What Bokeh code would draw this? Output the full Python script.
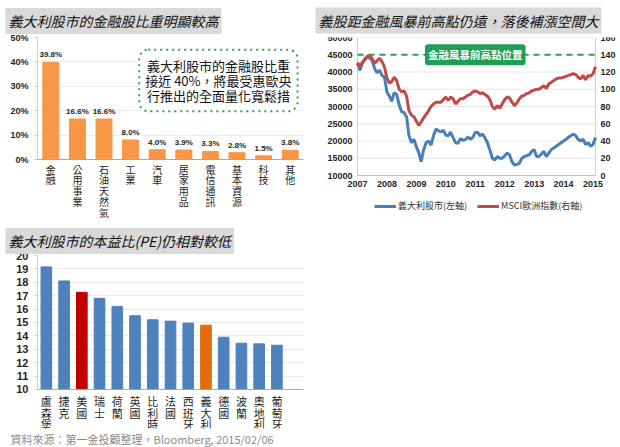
import pandas as pd
from bokeh.plotting import figure
from bokeh.models import (FactorRange, Range1d, Label, LabelSet, Span, Legend, LegendItem,
                          SingleIntervalTicker, PrintfTickFormatter, Title, ColumnDataSource)
from bokeh.layouts import gridplot
from bokeh.core.properties import value
from bokeh.embed import file_html
from bokeh.resources import INLINE

CJK = "Noto Sans CJK TC"
NUM = "Liberation Sans"
TXT = "#262626"

# ---------------- data ----------------
sectors = ["金融", "公用事業", "石油天然氣", "工業", "汽車", "居家用品", "電信通訊", "基本資源", "科技", "其他"]
sector_weight = [39.8, 16.6, 16.6, 8.0, 4.0, 3.9, 3.3, 2.8, 1.5, 3.8]

countries = ["盧森堡", "捷克", "美國", "瑞士", "荷蘭", "英國", "比利時", "法國", "西班牙", "義大利", "德國", "波蘭", "奧地利", "葡萄牙"]
pe_ratio = [19.15, 18.1, 17.25, 16.8, 16.2, 15.5, 15.2, 15.1, 14.95, 14.8, 13.9, 13.45, 13.4, 13.3]

series_start = "2007-01-01"
italy_ftse_mib = [
    42500, 40500, 42500, 43500, 44300, 44000, 43400, 41000, 39800, 40500, 39000, 38600,  # 2007
    34200, 33000, 31500, 34000, 33500, 30500, 28500, 28200, 27000, 21500, 19500, 20500,  # 2008
    18300, 16500, 14000, 17500, 19500, 20000, 18800, 21500, 23500, 23000, 22600, 23100,  # 2009
    21700, 21500, 22600, 21000, 19500, 19300, 20700, 20200, 20400, 21200, 20500, 21000,  # 2010
    22500, 22500, 21500, 22000, 21000, 19500, 17500, 15000, 14500, 15500, 15000, 15000,  # 2011
    15750, 16500, 16000, 14000, 13000, 13250, 13500, 15000, 15500, 15750, 16000, 17000,  # 2012
    17500, 15500, 15500, 16250, 17000, 15500, 16500, 17500, 18000, 18500, 19000, 19500,  # 2013
    20000, 20500, 21000, 21500, 22000, 21500, 20500, 20000, 20500, 19000, 19500, 18500,  # 2014
    19000, 21000,                                                                        # 2015
]
msci_europe = [
    131, 126, 131, 135, 138, 139, 136, 130, 133, 136, 132, 126,  # 2007
    113, 107, 109, 114, 110, 100, 97, 98, 92, 75, 70, 68,        # 2008
    63, 58, 62, 67, 71, 75, 80, 83, 85, 85, 85, 88,              # 2009
    91, 87, 91, 89, 83, 86, 89, 89, 91, 93, 94, 97,              # 2010
    98, 97, 95, 96, 94, 92, 88, 80, 77, 81, 78, 83,              # 2011
    88, 91, 90, 85, 81, 84, 89, 92, 93, 95, 96, 98,              # 2012
    99, 100, 100, 102, 104, 101, 106, 108, 110, 112, 113, 113,   # 2013
    114, 115, 116, 117, 118, 117, 114, 112, 116, 111, 116, 115,  # 2014
    118, 126,                                                    # 2015
]
axis_years = [2007, 2008, 2009, 2010, 2011, 2012, 2013, 2014, 2015]
left_ticks = [10000, 15000, 20000, 25000, 30000, 35000, 40000, 45000, 50000]
right_ticks = [0, 20, 40, 60, 80, 100, 120, 140, 160]
pre_crisis_high = 45000


def style_title(p, text, offset, standoff):
    p.title.text = text
    p.title.align = "left"
    p.title.offset = offset
    p.title.text_font = CJK
    p.title.text_font_size = "14px"
    p.title.text_font_style = "italic"
    p.title.text_color = "#111111"
    p.title.background_fill_color = "#d9d9d9"
    p.title.padding = 3
    p.title.standoff = standoff


def base_style(p):
    p.outline_line_color = None
    p.xgrid.grid_line_color = None
    p.ygrid.grid_line_color = "#ebebeb"
    p.xaxis.visible = False


def style_value_axis(ax, size, bounds):
    ax.bounds = bounds
    ax.major_label_text_font = NUM
    ax.major_label_text_font_style = "bold"
    ax.major_label_text_font_size = size
    ax.major_label_text_color = TXT
    ax.axis_line_color = "#d0d0d0"
    ax.major_tick_line_color = "#d0d0d0"
    ax.major_tick_in = 0
    ax.major_tick_out = 3
    ax.minor_tick_line_color = None


def category_labels(p, cats, base, size, gap, lh):
    src = ColumnDataSource(dict(x=cats, y=[base] * len(cats), t=["\n".join(c) for c in cats]))
    p.add_layout(LabelSet(x="x", y="y", text="t", source=src, y_offset=-gap,
                          text_align="center", text_baseline="top", text_font=value(CJK),
                          text_font_size=size, text_color=TXT, text_line_height=lh))
    p.add_layout(Span(location=base, dimension="width", line_color="#a6a6a6", line_width=1))


# ---------------- chart 1 ----------------
p1 = figure(x_range=FactorRange(*sectors), y_range=Range1d(-25.4, 50), width=310, height=222,
            output_backend="svg", toolbar_location=None,
            min_border_left=37, min_border_right=7, min_border_top=37, min_border_bottom=1)
style_title(p1, "義大利股市的金融股比重明顯較高", -32, 7)
base_style(p1)
p1.ygrid.bounds = (0, 50)
p1.vbar(x=sectors, top=sector_weight, width=0.6, color="#F79646")
p1.text(x=sectors, y=sector_weight, text=[f"{v:.1f}%" for v in sector_weight],
        text_align="center", text_baseline="bottom", y_offset=-3,
        text_font=value(NUM), text_font_size="8px", text_font_style="bold", text_color=TXT)
p1.yaxis.ticker = SingleIntervalTicker(interval=10)
p1.yaxis.formatter = PrintfTickFormatter(format="%d%%")
style_value_axis(p1.yaxis[0], "9px", (0, 50))
category_labels(p1, sectors, 0, "10px", 2, 0.72)
p1.add_layout(Label(x=6.8, y=32.4,
                    text="義大利股市的金融股比重\n接近 40%，將最受惠歐央\n行推出的全面量化寬鬆措",
                    text_align="center", text_baseline="middle", text_font=CJK,
                    text_font_size="13px", text_color="#111111", text_line_height=0.8,
                    background_fill_color="white", border_line_color="#2E9E5B",
                    border_line_dash="dotted", border_line_width=2, padding=6, border_radius=9))

# ---------------- chart 2 (frame spans the whole cell; axes drawn from tick lists) ----------------
dates = pd.date_range(series_start, periods=len(italy_ftse_mib), freq="MS")
d_first = dates[0].timestamp() * 1000
d_last = dates[-1].timestamp() * 1000
ms_per_px = (d_last - d_first) / 238.0
p2 = figure(x_axis_type="datetime",
            x_range=Range1d(d_first - 47 * ms_per_px, d_last + 25 * ms_per_px),
            y_range=Range1d(-3330, 50000), width=310, height=222,
            output_backend="svg", toolbar_location=None,
            min_border_left=0, min_border_right=0, min_border_top=37, min_border_bottom=1)
style_title(p2, "義股距金融風暴前高點仍遠，落後補漲空間大", 5, 8)
p2.outline_line_color = None
p2.axis.visible = False
p2.grid.visible = False
p2.extra_y_ranges = {"msci": Range1d(-53.3, 160)}

n_l = len(left_ticks)
p2.segment(x0=[d_first] * n_l, x1=[d_last] * n_l, y0=left_ticks, y1=left_ticks,
           line_color="#e6e6e6", line_width=1)
p2.segment(x0=[d_first, d_last], x1=[d_first, d_last], y0=[left_ticks[0]] * 2,
           y1=[left_ticks[-1]] * 2, line_color="#d0d0d0", line_width=1)
p2.segment(x0=[d_first], x1=[d_last], y0=[left_ticks[0]], y1=[left_ticks[0]],
           line_color="#bfbfbf", line_width=1)
p2.line(x=[d_first, d_last], y=[pre_crisis_high, pre_crisis_high], line_color="#2E9E5B",
        line_dash="6 5", line_width=2)

lab_kw = dict(text_font=value(NUM), text_font_size="9px", text_font_style="bold", text_color=TXT)
p2.add_layout(LabelSet(x="x", y="y", text="t", x_offset=-5, text_align="right", text_baseline="middle",
                       source=ColumnDataSource(dict(x=[d_first] * n_l, y=left_ticks,
                                                    t=[str(v) for v in left_ticks])), **lab_kw))
p2.add_layout(LabelSet(x="x", y="y", text="t", x_offset=5, text_align="left", text_baseline="middle",
                       y_range_name="msci",
                       source=ColumnDataSource(dict(x=[d_last] * len(right_ticks), y=right_ticks,
                                                    t=[str(v) for v in right_ticks])), **lab_kw))
p2.add_layout(LabelSet(x="x", y="y", text="t", y_offset=-5, text_align="center", text_baseline="top",
                       source=ColumnDataSource(dict(
                           x=[pd.Timestamp(f"{y}-01-01").timestamp() * 1000 for y in axis_years],
                           y=[left_ticks[0]] * len(axis_years), t=[str(y) for y in axis_years])),
                       **lab_kw))

r_it = p2.line(dates, italy_ftse_mib, line_color="#4A7EBB", line_width=3)
r_ms = p2.line(dates, msci_europe, line_color="#BE4B48", line_width=3, y_range_name="msci")
p2.add_layout(Label(x=pd.Timestamp("2011-01-01"), y=pre_crisis_high, text="金融風暴前高點位置",
                    text_align="center", text_baseline="middle", text_font=CJK,
                    text_font_size="10.5px", text_font_style="bold", text_color="white",
                    background_fill_color="#1F9E55", padding=3, border_radius=3))
legend = Legend(items=[LegendItem(label="義大利股市(左軸)", renderers=[r_it]),
                       LegendItem(label="MSCI歐洲指數(右軸)", renderers=[r_ms])],
                orientation="horizontal", location=(64, 9), label_text_font=CJK,
                label_text_font_size="9px", label_text_color="#333333",
                glyph_width=22, glyph_height=12, label_height=12, label_standoff=2,
                spacing=10, padding=0, margin=0, border_line_color=None,
                background_fill_alpha=0)
p2.add_layout(legend)

# ---------------- chart 3 ----------------
highlight = {"美國": "#C00000", "義大利": "#E46C0A"}
bar_colors = [highlight.get(c, "#4F81BD") for c in countries]
p3 = figure(x_range=FactorRange(*countries, " "), y_range=Range1d(7.08, 20), width=310, height=225,
            output_backend="svg", toolbar_location=None,
            min_border_left=37, min_border_right=7, min_border_top=33, min_border_bottom=15)
style_title(p3, "義大利股市的本益比(PE)仍相對較低", -32, 3)
base_style(p3)
p3.ygrid.bounds = (10, 20)
p3.vbar(x=countries, top=pe_ratio, bottom=10, width=0.6, color=bar_colors)
p3.yaxis.ticker = SingleIntervalTicker(interval=1)
style_value_axis(p3.yaxis[0], "11px", (10, 20))
category_labels(p3, countries, 10, "11px", 4, 0.72)
footer = Title(text="資料來源：第一金投顧整理，Bloomberg, 2015/02/06", align="left", offset=-27,
               text_font=CJK, text_font_size="11px", text_font_style="normal",
               text_color="#8c8c8c", standoff=1)
p3.add_layout(footer, "below")

grid = gridplot([[p1, p2], [p3, None]], toolbar_location=None)
open("out.html", "w").write(file_html(grid, INLINE))
